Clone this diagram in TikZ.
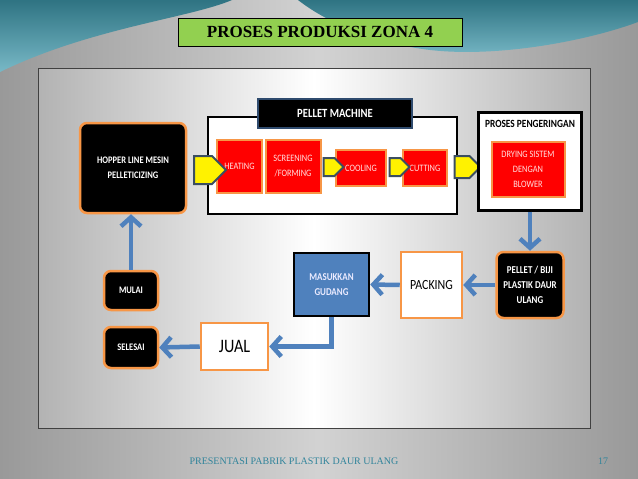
\documentclass[tikz,border=0pt]{standalone}
\usepackage{fontspec}
\setmainfont[FakeStretch=0.85]{Carlito}
\newfontfamily\titlefont{Liberation Serif}
\usetikzlibrary{shapes.symbols,arrows.meta}
\definecolor{boxorange}{HTML}{F79646}
\definecolor{flowblue}{HTML}{4F81BD}
\definecolor{slateline}{HTML}{3B4E61}
\definecolor{titlegreen}{HTML}{92D050}
\definecolor{waveteal}{HTML}{3E9AAE}
\definecolor{footteal}{HTML}{31849B}
\definecolor{machinerim}{HTML}{2F4B6E}
\definecolor{boxred}{HTML}{FF0000}

\begin{document}
\begin{tikzpicture}[
  x = 1pt, y = -1pt,
  every node/.style = {align=center, inner sep=1pt},
  darkbox/.style = {fill=black, draw=boxorange, line width=2.5pt, rounded corners=7pt, text=white, font=\fontsize{10}{14.5}\selectfont\bfseries},
  redbox/.style = {fill=boxred, draw=boxorange, line width=2pt, text=red!12!white, font=\fontsize{9.8}{15}\selectfont},
  whitebox/.style = {fill=white, draw=boxorange, line width=2.5pt},
  framebox/.style = {fill=white, draw=black, line width=2pt},
  bluebox/.style = {fill=flowblue, draw=black, line width=2.5pt, text=blue!8!white, font=\fontsize{10.5}{15}\selectfont\bfseries},
  feeder/.style = {shape=signal, signal to=east, fill=yellow, draw=slateline, line width=2pt},
  flow/.style = {draw=flowblue, line width=4.5pt, -{Straight Barb[length=9pt,width=20pt]}}
]
  \useasboundingbox (0,0) rectangle (638,479);
  \shade[left color=gray!80, right color=gray!80, middle color=gray!35] (0,0) rectangle (638,479);
  \shade[top color=waveteal!75!black, bottom color=waveteal!70!white] (0,0) -- (232,0) .. controls (190,18) and (90,28) .. (0,72) -- cycle;
  \shade[top color=waveteal!75!black, bottom color=waveteal!70!white] (298,0) -- (638,0) -- (638,22) .. controls (590,40) and (500,58) .. (430,50) .. controls (380,44) and (330,25) .. (298,0) -- cycle;
  \shadedraw[left color=gray!60, right color=gray!60, middle color=white, draw=black!75] (38,68) rectangle (590,428);

  \node[fill=titlegreen, draw=black, line width=0.8pt, minimum width=284pt, minimum height=28pt, font=\titlefont\bfseries\fontsize{17}{20}\selectfont] (title) at (320,32) {PROSES PRODUKSI ZONA 4};

  \node[darkbox, minimum width=106pt, minimum height=90pt] (hopper) at (133,168) {HOPPER LINE MESIN\\PELLETICIZING};

  \node[framebox, minimum width=249pt, minimum height=97pt] (machine) at (332.5,165.5) {};
  \node[fill=black, draw=machinerim, line width=2pt, minimum width=154pt, minimum height=29pt, text=white, font=\fontsize{12.5}{14}\selectfont\bfseries] (machinelabel) at (335,113.5) {PELLET MACHINE};
  \node[redbox, minimum width=45pt, minimum height=53pt] (heating) at (239.5,166.5) {HEATING};
  \node[redbox, minimum width=55pt, minimum height=53pt] (screening) at (293,166.5) {SCREENING\\/FORMING};
  \node[redbox, minimum width=50pt, minimum height=36pt] (cooling) at (361,168) {COOLING};
  \node[redbox, minimum width=44pt, minimum height=36pt] (cutting) at (425,168) {CUTTING};

  \node[feeder, minimum width=32pt, minimum height=28pt] (feedA) at (203,170) {};
  \node[feeder, minimum width=20pt, minimum height=18pt] (feedB) at (329,167) {};
  \node[feeder, minimum width=20pt, minimum height=18pt] (feedC) at (395,167) {};
  \node[feeder, minimum width=26pt, minimum height=22pt] (feedD) at (462,167) {};

  \node[framebox, line width=3pt, minimum width=103pt, minimum height=98pt] (dryer) at (530,161) {};
  \node[font=\fontsize{11}{13}\selectfont\bfseries] (dryerlabel) at (530,124) {PROSES PENGERINGAN};
  \node[redbox, minimum width=73pt, minimum height=55pt] (drying) at (528,169.5) {DRYING SISTEM\\DENGAN\\BLOWER};

  \node[darkbox, minimum width=67pt, minimum height=66pt, font=\fontsize{10.5}{15}\selectfont\bfseries] (pellet) at (530,285) {PELLET / BIJI\\PLASTIK DAUR\\ULANG};
  \node[whitebox, minimum width=61pt, minimum height=66pt, font=\fontsize{14}{16}\selectfont] (packing) at (431.5,285) {PACKING};
  \node[bluebox, minimum width=75pt, minimum height=63pt] (gudang) at (331.5,284.5) {MASUKKAN\\GUDANG};
  \node[whitebox, minimum width=67pt, minimum height=47pt, font=\fontsize{19}{22}\selectfont] (jual) at (234.5,346.5) {JUAL};
  \node[darkbox, minimum width=54pt, minimum height=41pt] (selesai) at (131,347.5) {SELESAI};
  \node[darkbox, minimum width=54pt, minimum height=39pt] (mulai) at (131,290.5) {MULAI};

  \draw[flow] (dryer.south) -- (pellet.north);
  \draw[flow] (pellet.west) -- (packing.east);
  \draw[flow] (packing.west) -- (gudang.east);
  \draw[flow] (gudang.south) |- (jual.east);
  \draw[flow] (jual.west) -- (selesai.east);
  \draw[flow] (mulai.north) -- (mulai.north |- hopper.south);

  \node[text=footteal, font=\titlefont\fontsize{10}{12}\selectfont] (footer) at (294,461) {PRESENTASI PABRIK PLASTIK DAUR ULANG};
  \node[text=footteal, font=\titlefont\fontsize{10}{12}\selectfont] (pagenum) at (603,461) {17};
\end{tikzpicture}
\end{document}
